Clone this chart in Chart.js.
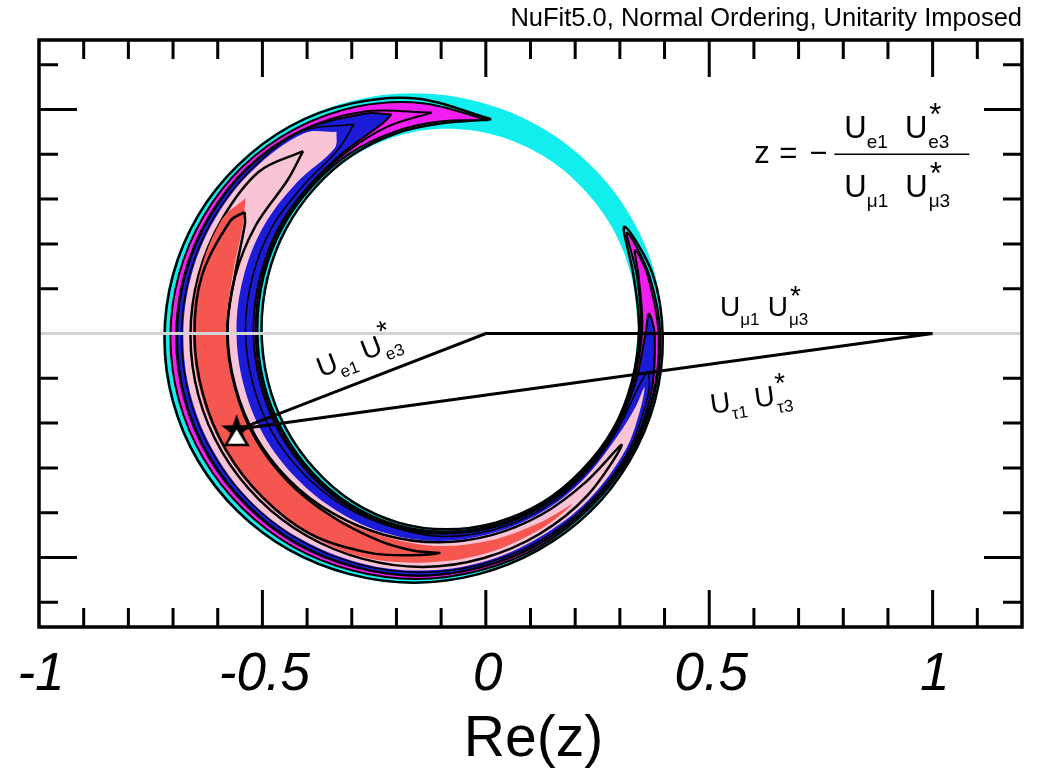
<!DOCTYPE html>
<html>
<head>
<meta charset="utf-8">
<script src="https://cdn.jsdelivr.net/npm/chart.js@4.4.0/dist/chart.umd.min.js"></script>
<style>
  html, body { margin: 0; padding: 0; background: #fff; }
  #wrap { width: 1043px; height: 770px; position: relative; }
</style>
</head>
<body>
<div id="wrap"><canvas id="unitarity"></canvas></div>
<script>
// axes
var xRange = [-1, 1.2];
var yRange = [-0.655, 0.655];
var xTicks = [-0.9, -0.8, -0.7, -0.6, -0.5, -0.4, -0.3, -0.2, -0.1, 0, 0.1, 0.2, 0.3, 0.4, 0.5, 0.6, 0.7, 0.8, 0.9, 1, 1.1];
var xMajor = [-0.5, 0, 0.5, 1];
var yTicks = [-0.6, -0.5, -0.4, -0.3, -0.2, -0.1, 0.1, 0.2, 0.3, 0.4, 0.5, 0.6];
var yMajor = [-0.5, 0.5];
var xLabelValues = [-1, -0.5, 0, 0.5, 1];
var xLabels = ['-1', '-0.5', '0', '0.5', '1'];

// allowed region of z, [Re z, Im z]
var outerEdge = [[0.398,-0.011],[0.379,0.131],[0.323,0.263],[0.234,0.376],[0.118,0.463],[-0.017,0.517],[-0.162,0.536],[-0.307,0.517],[-0.442,0.463],[-0.558,0.376],[-0.647,0.263],[-0.703,0.131],[-0.722,-0.011],[-0.703,-0.153],[-0.647,-0.285],[-0.558,-0.398],[-0.442,-0.485],[-0.307,-0.539],[-0.162,-0.558],[-0.017,-0.539],[0.118,-0.485],[0.234,-0.398],[0.323,-0.285],[0.379,-0.153]];
var innerEdge = [[0.341,0.011],[0.326,0.127],[0.284,0.234],[0.215,0.326],[0.127,0.397],[0.023,0.442],[-0.088,0.457],[-0.194,0.442],[-0.294,0.397],[-0.378,0.326],[-0.444,0.234],[-0.485,0.127],[-0.499,0.011],[-0.485,-0.105],[-0.444,-0.212],[-0.378,-0.304],[-0.294,-0.375],[-0.194,-0.420],[-0.088,-0.435],[0.023,-0.420],[0.127,-0.375],[0.215,-0.304],[0.284,-0.212],[0.326,-0.105]];
var outerContour = [[0.012,0.478],
  [-0.151,0.524],[-0.302,0.513],[-0.439,0.462],[-0.555,0.375],[-0.644,0.263],[-0.700,0.131],[-0.719,-0.011],[-0.700,-0.152],[-0.644,-0.284],[-0.555,-0.397],[-0.440,-0.483],[-0.305,-0.537],[-0.161,-0.556],[-0.016,-0.537],[0.118,-0.483],[0.234,-0.397],[0.322,-0.284],[0.378,-0.152],[0.396,-0.010],[0.374,0.131],
  [0.310,0.238],
  [0.331,0.127],[0.343,0.010],[0.327,-0.106],[0.285,-0.213],[0.215,-0.305],[0.127,-0.377],[0.022,-0.422],[-0.089,-0.437],[-0.196,-0.422],[-0.296,-0.377],[-0.381,-0.305],[-0.447,-0.213],[-0.488,-0.106],[-0.502,0.011],[-0.488,0.127],[-0.447,0.234],[-0.381,0.327],[-0.298,0.399],[-0.200,0.447],[-0.099,0.469]];
var magentaRegion = [[0.005,0.476],
  [-0.141,0.514],[-0.291,0.506],[-0.428,0.456],[-0.545,0.372],[-0.632,0.261],[-0.687,0.131],[-0.706,-0.009],[-0.687,-0.149],[-0.632,-0.279],[-0.545,-0.390],[-0.431,-0.476],[-0.298,-0.529],[-0.156,-0.548],[-0.014,-0.529],[0.119,-0.476],[0.232,-0.390],[0.320,-0.279],[0.374,-0.148],[0.391,-0.008],[0.366,0.130],
  [0.316,0.225],
  [0.338,0.128],[0.347,0.009],[0.330,-0.109],[0.286,-0.216],[0.216,-0.310],[0.126,-0.382],[0.021,-0.427],[-0.092,-0.442],[-0.200,-0.427],[-0.302,-0.382],[-0.388,-0.310],[-0.455,-0.216],[-0.497,-0.108],[-0.511,0.010],[-0.497,0.127],[-0.455,0.236],[-0.388,0.329],[-0.304,0.402],[-0.205,0.450],[-0.103,0.473]];
var magentaContour = [[-0.121,0.493],
  [-0.275,0.495],[-0.417,0.451],[-0.535,0.369],[-0.621,0.259],[-0.675,0.130],[-0.693,-0.008],[-0.675,-0.146],[-0.621,-0.275],[-0.535,-0.385],[-0.423,-0.470],[-0.292,-0.522],[-0.152,-0.541],[-0.011,-0.522],[0.119,-0.470],[0.231,-0.385],[0.318,-0.275],[0.372,-0.146],[0.387,-0.007],[0.362,0.130],
  [0.334,0.186],
  [0.342,0.128],[0.350,0.008],[0.330,-0.109],[0.287,-0.218],[0.217,-0.312],[0.126,-0.384],[0.020,-0.430],[-0.094,-0.445],[-0.203,-0.430],[-0.305,-0.384],[-0.391,-0.312],[-0.459,-0.218],[-0.501,-0.109],[-0.515,0.009],[-0.501,0.127],[-0.459,0.236],[-0.391,0.330],[-0.311,0.405],[-0.221,0.461]];
var blueRegion = [[-0.211,0.489],
  [-0.269,0.491],[-0.417,0.451],[-0.533,0.369],[-0.619,0.259],[-0.673,0.130],[-0.691,-0.008],[-0.673,-0.146],[-0.619,-0.274],[-0.533,-0.384],[-0.421,-0.469],[-0.291,-0.521],[-0.151,-0.540],[-0.011,-0.521],[0.119,-0.469],[0.231,-0.384],[0.317,-0.274],[0.368,-0.143],[0.378,-0.003],
  [0.365,0.044],
  [0.358,0.004],[0.334,-0.112],[0.288,-0.219],[0.217,-0.313],[0.126,-0.386],[0.019,-0.432],[-0.095,-0.447],[-0.205,-0.432],[-0.308,-0.386],[-0.395,-0.313],[-0.463,-0.219],[-0.505,-0.110],[-0.520,0.009],[-0.505,0.127],[-0.463,0.237],[-0.395,0.331],[-0.315,0.407],[-0.232,0.468]];
var blueContour = [[-0.295,0.467],
  [-0.414,0.450],[-0.525,0.366],[-0.610,0.257],[-0.663,0.130],[-0.681,-0.007],[-0.663,-0.143],[-0.610,-0.270],[-0.525,-0.379],[-0.414,-0.463],[-0.285,-0.515],[-0.147,-0.533],[-0.009,-0.515],[0.120,-0.463],[0.230,-0.379],[0.315,-0.270],[0.363,-0.139],
  [0.362,-0.087],
  [0.342,-0.119],[0.290,-0.223],[0.218,-0.318],[0.126,-0.392],[0.017,-0.438],[-0.099,-0.453],[-0.210,-0.432],[-0.317,-0.386],[-0.408,-0.313],[-0.479,-0.219],[-0.522,-0.110],[-0.538,0.009],[-0.522,0.127],[-0.479,0.237],[-0.408,0.331],[-0.331,0.410]];
var pinkRegion = [[-0.334,0.450],
  [-0.407,0.447],[-0.521,0.365],[-0.606,0.256],[-0.659,0.130],[-0.677,-0.006],[-0.659,-0.143],[-0.606,-0.269],[-0.522,-0.378],[-0.412,-0.460],[-0.282,-0.512],[-0.144,-0.529],[-0.007,-0.510],[0.121,-0.454],[0.229,-0.372],[0.311,-0.263],[0.344,-0.176],
  [0.355,-0.120],
  [0.335,-0.164],[0.294,-0.230],[0.219,-0.325],[0.125,-0.399],[0.014,-0.446],[-0.105,-0.463],[-0.223,-0.446],[-0.331,-0.397],[-0.424,-0.323],[-0.497,-0.227],[-0.542,-0.115],[-0.558,0.007],[-0.542,0.128],[-0.497,0.240],[-0.424,0.336],[-0.338,0.414]];
var pinkContour = [[-0.409,0.407],
  [-0.508,0.361],[-0.591,0.254],[-0.643,0.130],[-0.661,-0.004],[-0.643,-0.139],[-0.591,-0.263],[-0.508,-0.370],[-0.400,-0.452],[-0.275,-0.503],[-0.140,-0.521],[-0.004,-0.501],[0.121,-0.447],[0.227,-0.362],
  [0.304,-0.249],
  [0.221,-0.334],[0.125,-0.404],[0.013,-0.450],[-0.107,-0.466],[-0.229,-0.449],[-0.343,-0.401],[-0.440,-0.327],[-0.515,-0.230],[-0.561,-0.117],[-0.578,0.006],[-0.561,0.128],[-0.515,0.241],[-0.444,0.342]];
var redRegion = [[-0.538,0.302],
  [-0.591,0.254],[-0.641,0.130],[-0.656,-0.004],[-0.637,-0.137],[-0.585,-0.261],[-0.503,-0.367],[-0.396,-0.449],[-0.271,-0.500],[-0.134,-0.511],[-0.001,-0.491],[0.122,-0.437],
  [0.193,-0.381],
  [0.123,-0.421],[0.009,-0.462],[-0.112,-0.474],[-0.230,-0.452],[-0.346,-0.405],[-0.442,-0.329],[-0.518,-0.232],[-0.565,-0.118],[-0.581,0.005],[-0.567,0.128],[-0.543,0.246]];
var redContour = [[-0.540,0.271],
  [-0.572,0.251],[-0.635,0.130],[-0.652,-0.004],[-0.633,-0.136],[-0.582,-0.259],[-0.500,-0.365],[-0.393,-0.447],[-0.262,-0.489],[-0.168,-0.495],
  [-0.104,-0.490],
  [-0.161,-0.485],[-0.238,-0.463],[-0.345,-0.408],[-0.441,-0.332],[-0.516,-0.234],[-0.562,-0.119],[-0.579,0.004],[-0.562,0.128],[-0.539,0.246]];

// unitarity triangle: 0, 1 and best fit z
var bestFit = [-0.551, -0.213];
var triangleSides = [[1, 0], [0, 0], bestFit, [1, 0]];
var zeroLine = [[-1, 0], [1.2, 0]];

var FONT = '"Liberation Sans", Arial, Helvetica, sans-serif';
var titleText = 'NuFit5.0, Normal Ordering, Unitarity Imposed';
var xTitle = 'Re(z)';

function pts(list, close) {
  var out = list.map(function(p) { return {x: p[0], y: p[1]}; });
  if (close) out.push({x: list[0][0], y: list[0][1]});
  return out;
}

function area(list, color, border, width) {
  return {
    data: pts(list, true),
    fill: color ? 'shape' : false,
    backgroundColor: color || 'transparent',
    borderColor: border,
    borderWidth: width,
    tension: 0.35,
    pointRadius: 0
  };
}

// marker: black star with white triangle
var marker = document.createElement('canvas');
marker.width = 44; marker.height = 44;
(function() {
  var m = marker.getContext('2d');
  m.beginPath();
  for (var i = 0; i < 10; i++) {
    var r = i % 2 ? 6.5 : 16.5;
    var a = -Math.PI / 2 + i * Math.PI / 5;
    m.lineTo(19 + r * Math.cos(a), 23.5 + r * Math.sin(a));
  }
  m.closePath();
  m.fillStyle = '#000';
  m.fill();
  m.beginPath();
  m.moveTo(19, 20); m.lineTo(30, 38); m.lineTo(8, 38);
  m.closePath();
  m.fillStyle = '#fff';
  m.fill();
  m.lineWidth = 2.5;
  m.strokeStyle = '#000';
  m.stroke();
})();

var datasets = [
  area(outerEdge, '#12eeee', '#12eeee', 0),
  area(innerEdge, '#ffffff', '#ffffff', 0),
  area(outerContour, null, '#000', 2.5),
  area(magentaRegion, '#f01ef0', '#000', 2),
  area(magentaContour, null, '#000', 2),
  area(blueRegion, '#1c1cd8', '#000', 2),
  area(blueContour, null, '#000', 1.5),
  area(pinkRegion, '#f8c4d6', '#f8c4d6', 0),
  area(pinkContour, null, '#000', 2.5),
  area(redRegion, '#f5564f', '#f5564f', 0),
  area(redContour, null, '#000', 2.5),
  { data: pts(zeroLine), borderColor: '#d3d3d3', borderWidth: 3, pointRadius: 0, fill: false },
  { data: pts(triangleSides), borderColor: '#000', borderWidth: 3, pointRadius: 0, fill: false, borderJoinStyle: 'miter' },
  { data: pts([bestFit]), showLine: false, pointStyle: marker, pointRadius: 20, fill: false }
];
datasets.forEach(function(d, i) { d.order = datasets.length - i; });

function drawUU(ctx, x, y, angle, size, sub1, sub2, gap) {
  var small = Math.round(size * 0.6);
  ctx.save();
  ctx.translate(x, y);
  ctx.rotate(angle);
  ctx.textAlign = 'left';
  ctx.textBaseline = 'alphabetic';
  ctx.font = size + 'px ' + FONT;
  ctx.fillText('U', 0, 0);
  var w = ctx.measureText('U').width;
  ctx.font = small + 'px ' + FONT;
  ctx.fillText(sub1, w, size * 0.3);
  var x2 = w + ctx.measureText(sub1).width + size * gap;
  ctx.font = size + 'px ' + FONT;
  ctx.fillText('U', x2, 0);
  var x3 = x2 + ctx.measureText('U').width + 1;
  ctx.font = small + 'px ' + FONT;
  ctx.fillText(sub2, x3, size * 0.3);
  ctx.font = size + 'px ' + FONT;
  ctx.fillText('*', x3 + 1, -size * 0.42);
  ctx.restore();
}

var decorations = {
  id: 'decorations',
  afterDraw: function(chart) {
    var ctx = chart.ctx, a = chart.chartArea;
    var xs = chart.scales.x, ys = chart.scales.y;
    ctx.save();
    ctx.strokeStyle = '#000';
    ctx.lineWidth = 3;
    ctx.beginPath();
    xTicks.forEach(function(v) {
      var px = xs.getPixelForValue(v);
      var len = xMajor.indexOf(v) >= 0 ? 37 : 19;
      ctx.moveTo(px, a.bottom); ctx.lineTo(px, a.bottom - len);
      ctx.moveTo(px, a.top); ctx.lineTo(px, a.top + len);
    });
    yTicks.forEach(function(v) {
      var py = ys.getPixelForValue(v);
      var len = yMajor.indexOf(v) >= 0 ? 38 : 19;
      ctx.moveTo(a.left, py); ctx.lineTo(a.left + len, py);
      ctx.moveTo(a.right, py); ctx.lineTo(a.right - len, py);
    });
    ctx.stroke();
    ctx.lineWidth = 3.5;
    ctx.strokeRect(a.left, a.top, a.right - a.left, a.bottom - a.top);

    ctx.fillStyle = '#000';
    ctx.textBaseline = 'alphabetic';
    ctx.textAlign = 'center';
    ctx.font = 'italic 53px ' + FONT;
    xLabelValues.forEach(function(v, i) {
      ctx.fillText(xLabels[i], xs.getPixelForValue(v) + 2, a.bottom + 63);
    });
    ctx.font = '57px ' + FONT;
    ctx.fillText(xTitle, (a.left + a.right) / 2 + 3, a.bottom + 129);

    ctx.textAlign = 'right';
    ctx.font = '25.5px ' + FONT;
    ctx.fillText(titleText, a.right, 26);

    // side labels of the triangle
    drawUU(ctx, xs.getPixelForValue(0.524), ys.getPixelForValue(0.038), 0, 28, '\u03bc1', '\u03bc3', 0.3);
    drawUU(ctx, xs.getPixelForValue(-0.369), ys.getPixelForValue(-0.098), -Math.atan2(0.213, 0.551), 28, 'e1', 'e3', 0.3);
    drawUU(ctx, xs.getPixelForValue(0.505), ys.getPixelForValue(-0.179), -Math.atan2(0.213, 1.551), 28, '\u03c41', '\u03c43', 0.3);

    // definition of z
    var fx = xs.getPixelForValue(0.78), fy = ys.getPixelForValue(0.40);
    ctx.textAlign = 'left';
    ctx.font = '31px ' + FONT;
    ctx.fillText('z', fx - 80, fy + 9);
    ctx.fillText('=', fx - 55, fy + 9);
    ctx.fillText('\u2212', fx - 25, fy + 9);
    ctx.lineWidth = 1.5;
    ctx.beginPath();
    ctx.moveTo(fx, fy); ctx.lineTo(fx + 135, fy);
    ctx.stroke();
    drawUU(ctx, fx + 10, fy - 16, 0, 31, 'e1', 'e3', 0.55);
    drawUU(ctx, fx + 10, fy + 43, 0, 31, '\u03bc1', '\u03bc3', 0.55);
    ctx.restore();
  }
};

new Chart(document.getElementById('unitarity'), {
  type: 'line',
  data: { datasets: datasets },
  options: {
    responsive: true,
    maintainAspectRatio: false,
    animation: false,
    events: [],
    layout: { padding: { left: 39, right: 19, top: 40, bottom: 143 } },
    scales: {
      x: { type: 'linear', min: xRange[0], max: xRange[1], display: false },
      y: { type: 'linear', min: yRange[0], max: yRange[1], display: false }
    },
    plugins: {
      legend: { display: false },
      tooltip: { enabled: false }
    }
  },
  plugins: [decorations]
});
</script>
</body>
</html>
